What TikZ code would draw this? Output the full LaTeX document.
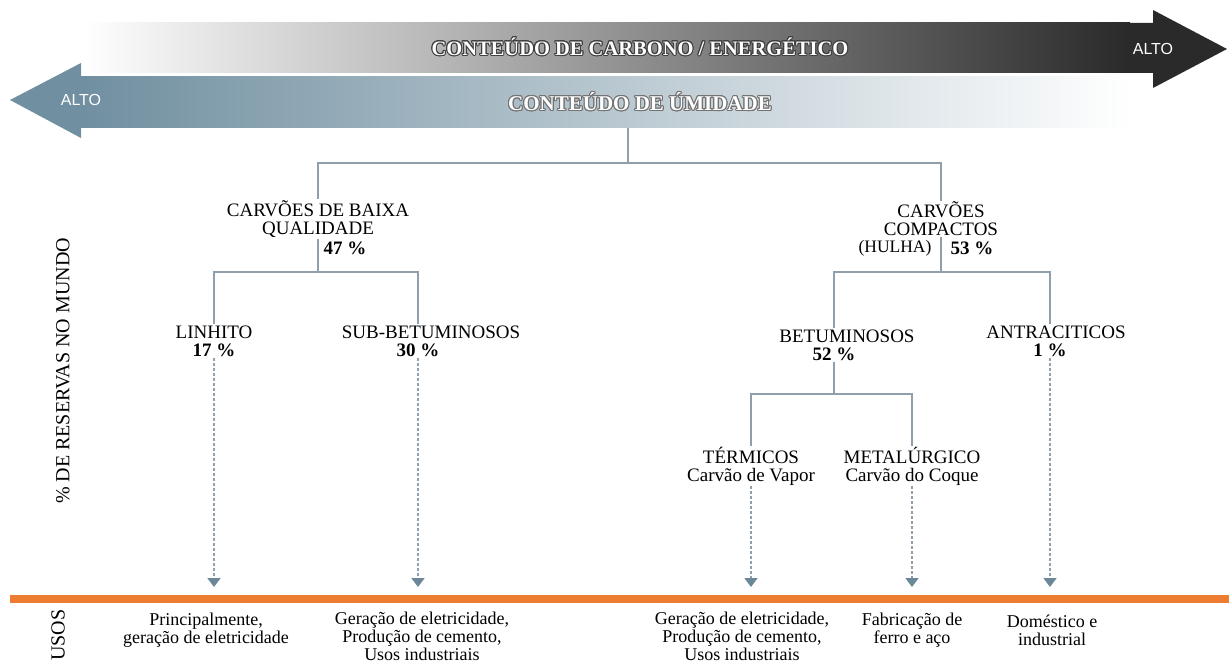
\documentclass[tikz,border=0pt]{standalone}
\usepackage{fontspec}
\setmainfont{Liberation Serif}
\newfontfamily\altofont{Liberation Sans}
\usepackage{contour}
\contourlength{1pt}
\usetikzlibrary{arrows.meta}
\definecolor{branchgray}{RGB}{143,160,172}
\definecolor{tipblue}{RGB}{107,136,152}
\definecolor{umidblue}{RGB}{112,143,160}
\definecolor{carbondark}{RGB}{42,42,42}
\definecolor{usebar}{RGB}{237,125,49}

\begin{document}
\begin{tikzpicture}[x=1pt,y=-1pt,
    branch/.style={draw=branchgray,line width=2pt},
    usearrow/.style={draw=branchgray,line width=1.5pt,dash pattern=on 3pt off 2pt,
      -{Triangle[width=13pt,length=9pt,color=tipblue,fill=tipblue]}},
    kind/.style={inner sep=1pt,font=\fontsize{19}{18}\selectfont,align=center},
    pct/.style={inner sep=1pt,font=\fontsize{19}{18}\selectfont\bfseries},
    usage/.style={inner sep=0pt,font=\fontsize{18}{18}\selectfont,align=center},
    alto/.style={text=white,font=\altofont\fontsize{16}{16}\selectfont},
    side/.style={rotate=90,font=\fontsize{20}{20}\selectfont}]
  \useasboundingbox (0,0) rectangle (1229,666);

  \fill[carbondark] (1130,23) -- (1153,23) -- (1153,10) -- (1227,49) -- (1153,88) -- (1153,73) -- (1130,73) -- cycle;
  \shade[left color=white,right color=carbondark] (83,23) rectangle (1130,73);
  \fill[umidblue] (81,77) -- (81,63) -- (10,100) -- (81,138) -- (81,128) -- cycle;
  \shade[left color=umidblue,right color=white] (81,77) rectangle (1130,128);

  \node[font=\fontsize{20.5}{20.5}\selectfont\bfseries] (carbono) at (640,47)
    {\contour{black!75}{\textcolor{white}{CONTEÚDO DE CARBONO / ENERGÉTICO}}};
  \node[font=\fontsize{21}{21}\selectfont\bfseries] (umidade) at (640,102)
    {\contour{black!55}{\textcolor{white}{CONTEÚDO DE ÚMIDADE}}};
  \node[alto] (altoR) at (1153,49) {ALTO};
  \node[alto] (altoL) at (81,100) {ALTO};

  \node[kind] (baixa) at (318,219) {CARVÕES DE BAIXA\\QUALIDADE};
  \node[pct] (baixapct) at (345,248) {47 \%};
  \node[kind] (compactos) at (941,219) {CARVÕES\\COMPACTOS};
  \node[kind,font=\fontsize{17.5}{17.5}\selectfont] (hulha) at (895,248) {(HULHA)};
  \node[pct] (compactospct) at (972,248) {53 \%};
  \node[kind] (linhito) at (214,332) {LINHITO};
  \node[pct] (linhitopct) at (214,350) {17 \%};
  \node[kind] (sub) at (431,332) {SUB-BETUMINOSOS};
  \node[pct] (subpct) at (418,350) {30 \%};
  \node[kind] (betum) at (847,336) {BETUMINOSOS};
  \node[pct] (betumpct) at (834,354) {52 \%};
  \node[kind] (antra) at (1056,332) {ANTRACITICOS};
  \node[pct] (antrapct) at (1050,350) {1 \%};
  \node[kind] (termicos) at (751,466) {TÉRMICOS\\Carvão de Vapor};
  \node[kind] (metal) at (912,466) {METALÚRGICO\\Carvão do Coque};

  \coordinate (umid) at (628,128);
  \coordinate (topfork) at (628,163);
  \coordinate (lowfork) at (318,272);
  \coordinate (highfork) at (941,272);
  \coordinate (betumfork) at (834,394);
  \coordinate (bar) at (0,587);

  \draw[branch] (umid) -- (topfork) (topfork) -| (baixa.north) (topfork) -| (compactos.north);
  \draw[branch] (baixa.south) -- (lowfork) (lowfork) -| (linhito.north) (lowfork) -| (sub.north -| subpct);
  \draw[branch] (compactos.south) -- (highfork) (highfork) -| (betum.north -| betumpct) (highfork) -| (antra.north -| antrapct);
  \draw[branch] (betumpct.south) -- (betumfork) (betumfork) -| (termicos.north) (betumfork) -| (metal.north);

  \draw[usearrow] (linhitopct.south) -- (linhitopct.south |- bar);
  \draw[usearrow] (subpct.south) -- (subpct.south |- bar);
  \draw[usearrow] (termicos.south) -- (termicos.south |- bar);
  \draw[usearrow] (metal.south) -- (metal.south |- bar);
  \draw[usearrow] (antrapct.south) -- (antrapct.south |- bar);

  \draw[usebar,line width=8pt] (10,599) -- (1229,599);

  \node[side] (reservas) at (63,371) {\% DE RESERVAS NO MUNDO};
  \node[side] (usos) at (58,635) {USOS};

  \node[usage] (uselinhito) at (206,630) {Principalmente,\\geração de eletricidade};
  \node[usage] (usesub) at (422,636) {Geração de eletricidade,\\Produção de cemento,\\Usos industriais};
  \node[usage] (usebetum) at (742,636) {Geração de eletricidade,\\Produção de cemento,\\Usos industriais};
  \node[usage] (usemetal) at (912,630) {Fabricação de\\ferro e aço};
  \node[usage] (useantra) at (1052,630) {Doméstico e\\industrial};
\end{tikzpicture}
\end{document}
